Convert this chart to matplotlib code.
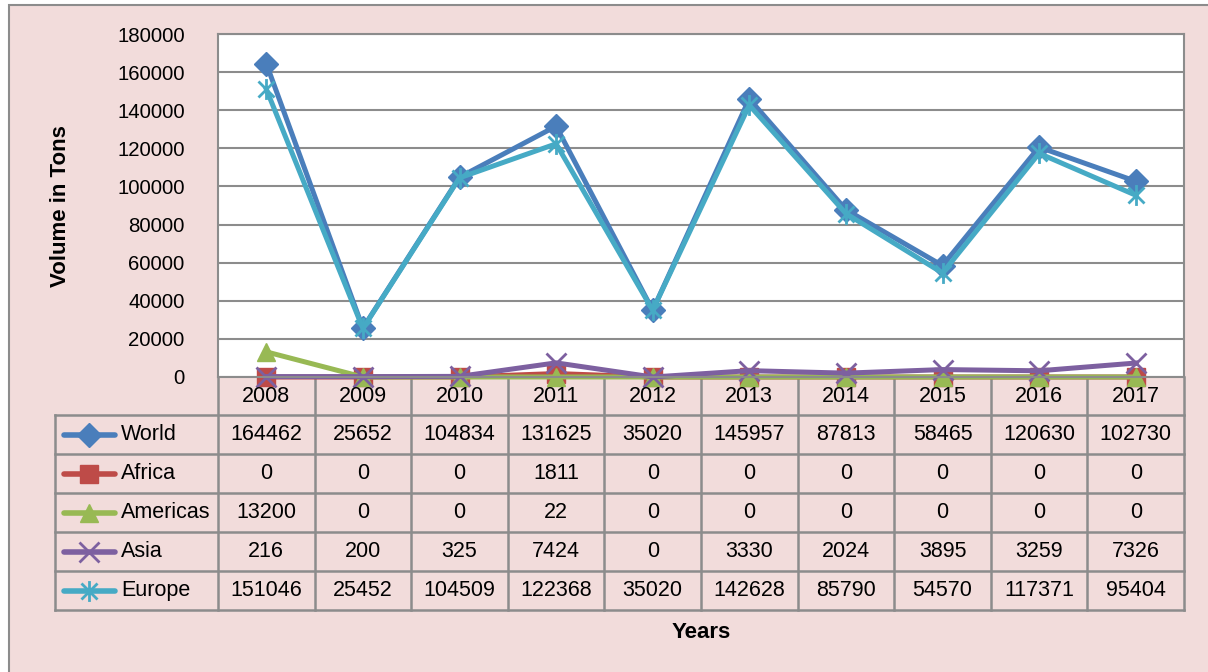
import matplotlib.pyplot as plt
import matplotlib.patches as mpatches
from matplotlib.lines import Line2D
from matplotlib.path import Path

years = ['2008', '2009', '2010', '2011', '2012', '2013', '2014', '2015', '2016', '2017']
world = [164462, 25652, 104834, 131625, 35020, 145957, 87813, 58465, 120630, 102730]
africa = [0, 0, 0, 1811, 0, 0, 0, 0, 0, 0]
americas = [13200, 0, 0, 22, 0, 0, 0, 0, 0, 0]
asia = [216, 200, 325, 7424, 0, 3330, 2024, 3895, 3259, 7326]
europe = [151046, 25452, 104509, 122368, 35020, 142628, 85790, 54570, 117371, 95404]
series_names = ['World', 'Africa', 'Americas', 'Asia', 'Europe']
y_ticks = [0, 20000, 40000, 60000, 80000, 100000, 120000, 140000, 160000, 180000]

W, H = 1208, 672
plt.rcParams['font.family'] = ['Liberation Sans', 'DejaVu Sans']

# excel style star: an x with a vertical bar through it
star = Path([(-1, -1), (1, 1), (-1, 1), (1, -1), (0, -1.3), (0, 1.3)],
            [Path.MOVETO, Path.LINETO, Path.MOVETO, Path.LINETO, Path.MOVETO, Path.LINETO])

styles = {
    'World': dict(color='#4A7EBB', marker='D', ms=12),
    'Africa': dict(color='#BE4B48', marker='s', ms=13),
    'Americas': dict(color='#98B954', marker='^', ms=13),
    'Asia': dict(color='#7D60A0', marker='x', ms=14, mew=2),
    'Europe': dict(color='#46AAC5', marker=star, ms=15, mew=2),
}
values = {'World': world, 'Africa': africa, 'Americas': americas, 'Asia': asia, 'Europe': europe}


def fx(px):
    return px / W


def fy(py):
    return 1 - py / H


fig = plt.figure(figsize=(W / 100, H / 100), dpi=100)
fig.patch.set_facecolor('white')

# pink background box
fig.patches.append(mpatches.Rectangle((fx(9), fy(H + 10)), 1.0, fy(5) - fy(H + 10),
                                      transform=fig.transFigure, facecolor='#F2DCDB',
                                      edgecolor='#8C8C8C', lw=1.5, zorder=-5))

# plot area
left, right, top, bottom = 218, 1184, 34, 377
ax = fig.add_axes([fx(left), fy(bottom), fx(right) - fx(left), fy(top) - fy(bottom)])
ax.set_zorder(2)
ax.set_facecolor('white')
x = list(range(len(years)))
for name in series_names:
    st = styles[name]
    ax.plot(x, values[name], color=st['color'], lw=3.6, marker=st['marker'],
            ms=st['ms'], mew=st.get('mew', 1), mec=st['color'], clip_on=False)
ax.set_xlim(-0.5, len(years) - 0.5)
ax.set_ylim(0, 180000)
ax.set_yticks(y_ticks)
ax.set_yticklabels([str(v) for v in y_ticks], fontsize=14.7)
ax.set_xticks([])
ax.tick_params(axis='y', length=0, pad=24)
ax.grid(axis='y', color='#8C8C8C', lw=1.5)
ax.set_axisbelow(True)
for sp in ax.spines.values():
    sp.set_color('#8C8C8C')
    sp.set_linewidth(1.5)

# data table below the plot
col_w = (right - left) / len(years)
row_lines = [415, 454, 493, 532, 571, 610]
gray = '#8C8C8C'


def hline(y, x0, x1):
    fig.add_artist(Line2D([fx(x0), fx(x1)], [fy(y), fy(y)], transform=fig.transFigure,
                          color=gray, lw=1.8))


def vline(xp, y0, y1):
    fig.add_artist(Line2D([fx(xp), fx(xp)], [fy(y0), fy(y1)], transform=fig.transFigure,
                          color=gray, lw=1.8))


for y in row_lines:
    hline(y, 55, right)
vline(55, row_lines[0], row_lines[-1])
for i in range(len(years) + 1):
    vline(left + i * col_w, bottom, row_lines[-1])

for i, yr in enumerate(years):
    fig.text(fx(left + (i + 0.5) * col_w), fy(396), yr, ha='center', va='center', fontsize=15.5)

for r, name in enumerate(series_names):
    yc = (row_lines[r] + row_lines[r + 1]) / 2
    st = styles[name]
    fig.add_artist(Line2D([fx(64), fx(115)], [fy(yc), fy(yc)], transform=fig.transFigure,
                          color=st['color'], lw=4, solid_capstyle='round'))
    fig.add_artist(Line2D([fx(89)], [fy(yc)], transform=fig.transFigure, color=st['color'],
                          marker=st['marker'], ms=st['ms'], mew=st.get('mew', 1),
                          mec=st['color'], lw=0))
    fig.text(fx(121), fy(yc), name, ha='left', va='center', fontsize=15.5)
    for i, v in enumerate(values[name]):
        fig.text(fx(left + (i + 0.5) * col_w), fy(yc), str(v), ha='center', va='center',
                 fontsize=15.5)

fig.text(fx(61), fy(206), 'Volume in Tons', rotation=90, ha='center', va='center',
         fontsize=16, fontweight='bold')
fig.text(fx(701), fy(632), 'Years', ha='center', va='center', fontsize=16, fontweight='bold')

fig.savefig('out.png', dpi=100)
